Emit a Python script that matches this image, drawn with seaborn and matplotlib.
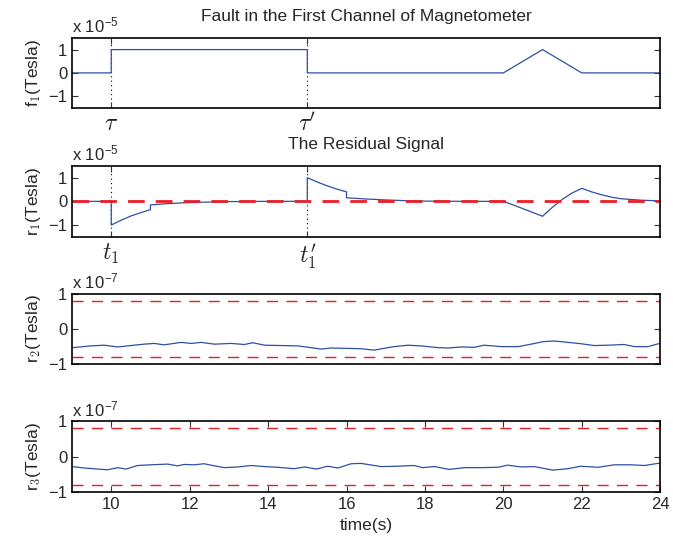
import numpy as np
import pandas as pd
import matplotlib
matplotlib.use("Agg")
import matplotlib.pyplot as plt
import seaborn as sns

# Fault signal f1 (x 1e-5 Tesla)
f1_t = [9, 10, 10, 15, 15, 20, 21, 22, 24]
f1_v = [0, 0, 1, 1, 0, 0, 1, 0, 0]

# Residual r1 (x 1e-5 Tesla)
r1_t = [9, 10, 10, 10.25, 10.5, 10.75, 11, 11, 11.5, 12, 12.5, 13, 14, 15,
        15, 15.25, 15.5, 15.75, 16, 16, 16.5, 17, 17.5, 18, 19, 20,
        20.25, 20.5, 20.75, 21, 21.25, 21.5, 21.75, 22,
        22.25, 22.5, 22.75, 23, 23.5, 24]
r1_v = [0, 0, -1.0, -0.80, -0.62, -0.48, -0.35, -0.15, -0.09, -0.05, -0.03, -0.01, 0, 0,
        1.0, 0.82, 0.66, 0.52, 0.40, 0.15, 0.10, 0.06, 0.03, 0.01, 0, 0,
        -0.15, -0.31, -0.47, -0.63, -0.25, 0.08, 0.35, 0.55,
        0.40, 0.28, 0.18, 0.11, 0.05, 0.02]

# Residual r2 (x 1e-7 Tesla)
r2_t = [9.0, 9.48, 9.82, 10.17, 10.5, 10.84, 11.1, 11.35, 11.78, 12.04, 12.29,
        12.63, 13.06, 13.4, 13.61, 13.91, 14.33, 14.76, 15.1, 15.35, 15.6,
        16.03, 16.37, 16.7, 17.21, 17.57, 17.9, 18.34, 18.59, 18.92, 19.26,
        19.51, 19.94, 20.38, 20.71, 21.01, 21.3, 21.65, 21.99, 22.32, 22.67,
        23.08, 23.34, 23.69, 23.95, 24.0]
r2_v = [-0.53, -0.48, -0.46, -0.51, -0.47, -0.43, -0.41, -0.45, -0.38, -0.41, -0.38,
        -0.43, -0.41, -0.44, -0.39, -0.46, -0.47, -0.48, -0.53, -0.57, -0.54,
        -0.55, -0.56, -0.60, -0.50, -0.46, -0.48, -0.53, -0.54, -0.51, -0.52,
        -0.46, -0.50, -0.50, -0.43, -0.36, -0.34, -0.38, -0.42, -0.47, -0.46,
        -0.44, -0.50, -0.50, -0.42, -0.41]

# Residual r3 (x 1e-7 Tesla)
r3_t = [9.0, 9.31, 9.9, 10.17, 10.38, 10.67, 11.01, 11.44, 11.69, 11.86, 12.12,
        12.37, 12.63, 12.89, 13.23, 13.57, 13.91, 14.25, 14.67, 14.93, 15.23,
        15.52, 15.78, 16.12, 16.37, 16.54, 16.88, 17.3, 17.73, 17.94, 18.24,
        18.62, 19.01, 19.43, 19.86, 20.11, 20.45, 20.79, 21.26, 21.64, 21.98,
        22.41, 22.83, 23.26, 23.6, 23.94, 24.0]
r3_v = [-0.28, -0.32, -0.37, -0.31, -0.35, -0.25, -0.23, -0.21, -0.26, -0.22, -0.23,
        -0.20, -0.26, -0.31, -0.29, -0.25, -0.28, -0.30, -0.34, -0.29, -0.35,
        -0.27, -0.32, -0.20, -0.19, -0.22, -0.28, -0.27, -0.25, -0.31, -0.28,
        -0.36, -0.31, -0.31, -0.30, -0.24, -0.29, -0.28, -0.38, -0.34, -0.27,
        -0.30, -0.23, -0.23, -0.25, -0.19, -0.19]

thr = 0.8
time_ticks = [10, 12, 14, 16, 18, 20, 22, 24]

sns.set_style("ticks")
plt.rcParams['font.family'] = ['Liberation Sans', 'DejaVu Sans']
plt.rcParams['mathtext.fontset'] = 'cm'
plt.rcParams['xtick.direction'] = 'in'
plt.rcParams['ytick.direction'] = 'in'
plt.rcParams['axes.linewidth'] = 1.2

blue = '#2d4fa6'
red = '#ee1c25'

fig = plt.figure(figsize=(6.73, 5.42), dpi=100)
boxes = [[0.107, 0.801, 0.874, 0.129],
         [0.107, 0.563, 0.874, 0.131],
         [0.107, 0.328, 0.874, 0.130],
         [0.107, 0.092, 0.874, 0.131]]
axes = [fig.add_axes(b) for b in boxes]


def style(ax, ylab, expo, ylim):
    ax.set_xlim(9, 24)
    ax.set_ylim(*ylim)
    ax.set_yticks([-1, 0, 1])
    ax.set_yticklabels(['\u22121', '0', '1'])
    ax.tick_params(axis='both', which='both', top=True, right=True, length=4,
                   width=0.8, labelsize=12, color='#333333')
    ax.set_ylabel(ylab, fontsize=12.5, labelpad=4)
    ax.text(0.0, 1.03, r'x 10$^{\mathregular{' + expo + r'}}$', transform=ax.transAxes,
            fontsize=12, ha='left', va='bottom')
    for s in ax.spines.values():
        s.set_color('black')


# f1 panel
ax = axes[0]
sns.lineplot(x=f1_t, y=f1_v, ax=ax, color=blue, lw=0.9, estimator=None, sort=False)
style(ax, r'f$_1$(Tesla)', '\u22125', (-1.5, 1.5))
ax.set_xticks([10, 15])
ax.set_xticklabels([r'$\tau$', r"$\tau'$"], fontsize=17)
ax.grid(axis='x', ls=(0, (1, 3)), color='black', lw=0.8)
ax.set_title('Fault in the First Channel of Magnetometer', fontsize=12.5, pad=12)

# r1 panel
ax = axes[1]
sns.lineplot(x=r1_t, y=r1_v, ax=ax, color=blue, lw=0.9, estimator=None, sort=False)
ax.axhline(0, color=red, lw=2, ls=(0, (6, 4)))
style(ax, r'r$_1$(Tesla)', '\u22125', (-1.5, 1.5))
ax.set_xticks([10, 15])
ax.set_xticklabels([r'$t_1$', r"$t_1'$"], fontsize=17)
ax.grid(axis='x', ls=(0, (1, 3)), color='black', lw=0.8)
ax.set_title('The Residual Signal', fontsize=12.5, pad=12)

# r2 panel
ax = axes[2]
sns.lineplot(x=r2_t, y=r2_v, ax=ax, color=blue, lw=0.9, estimator=None, sort=False)
ax.axhline(thr, color=red, lw=1, ls=(0, (8, 6)))
ax.axhline(-thr, color=red, lw=1, ls=(0, (8, 6)))
style(ax, r'r$_2$(Tesla)', '\u22127', (-1, 1))
ax.set_xticks([])

# r3 panel
ax = axes[3]
sns.lineplot(x=r3_t, y=r3_v, ax=ax, color=blue, lw=0.9, estimator=None, sort=False)
ax.axhline(thr, color=red, lw=1, ls=(0, (8, 6)))
ax.axhline(-thr, color=red, lw=1, ls=(0, (8, 6)))
style(ax, r'r$_3$(Tesla)', '\u22127', (-1, 1))
ax.set_xticks(time_ticks)
ax.set_xlabel('time(s)', fontsize=12.5, labelpad=4)

fig.savefig('out.png', dpi=100)
